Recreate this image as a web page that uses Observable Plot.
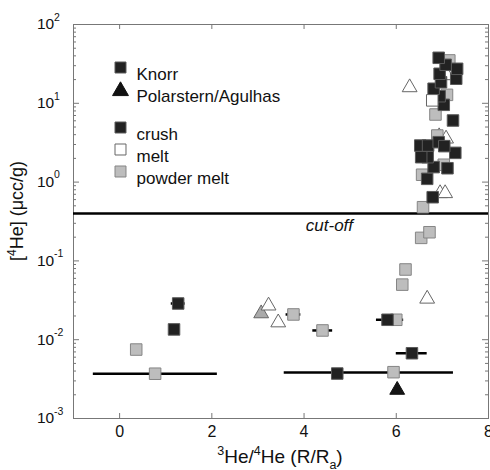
<!DOCTYPE html>
<html><head><meta charset="utf-8">
<script src="https://cdn.jsdelivr.net/npm/d3@7"></script>
<script src="https://cdn.jsdelivr.net/npm/@observablehq/plot@0.6"></script>
<style>html,body{margin:0;padding:0;background:#fff}</style>
</head><body><div id="chart"></div>
<script>
// Knorr samples (squares)
const knorrX = [0.36, 0.77, 3.77, 4.40, 6.00, 5.94, 6.13, 6.20, 6.54, 6.72, 6.58, 6.56, 7.03, 6.89, 6.85, 7.10, 7.15,
  1.27, 1.18, 5.81, 6.34, 4.72, 6.79, 6.67, 6.81, 7.11, 6.68, 6.54, 7.28, 6.52, 6.69, 6.92, 7.04, 7.23, 7.03, 6.94, 6.81, 6.97, 7.30, 6.94, 7.32, 7.07, 6.92,
  6.78];
const knorrY = [0.0075, 0.0037, 0.0209, 0.0131, 0.0179, 0.00387, 0.050, 0.0778, 0.196, 0.231, 0.48, 1.24, 1.66, 3.90, 7.21, 12.8, 35,
  0.0288, 0.0135, 0.0179, 0.00673, 0.00372, 0.643, 1.10, 1.55, 1.50, 2.07, 2.07, 2.35, 2.91, 2.91, 3.21, 2.86, 6.05, 9.57, 12.3, 15.3, 18.5, 20.5, 23.7, 27.4, 30.8, 37.8,
  10.9];
const knorrType = ["powder","powder","powder","powder","powder","powder","powder","powder","powder","powder","powder","powder","powder","powder","powder","powder","powder",
  "crush","crush","crush","crush","crush","crush","crush","crush","crush","crush","crush","crush","crush","crush","crush","crush","crush","crush","crush","crush","crush","crush","crush","crush","crush","crush",
  "melt"];

// Polarstern/Agulhas samples (triangles)
const polX = [3.07, 6.29, 7.10, 6.93, 7.08, 6.95, 7.06, 6.67, 3.23, 3.44, 6.02];
const polY = [0.0215, 15.9, 22.6, 3.8, 3.55, 0.72, 0.72, 0.033, 0.027, 0.0165, 0.0023];
const polType = ["powder","melt","melt","melt","melt","melt","melt","melt","melt","melt","crush"];

// horizontal error bars / blank ranges
const errY  = [0.0288, 0.0209, 0.0131, 0.0179, 0.00673, 0.0037, 0.00384];
const errX1 = [1.12, 3.61, 4.19, 5.57, 6.00, -0.57, 3.57];
const errX2 = [1.42, 3.93, 4.62, 6.16, 6.67, 2.12, 7.24];

const cutoffValue = 0.4;
const cutoffLabel = "cut-off";
const cutoffLabelX = 4.55;

const xTicks = [0, 2, 4, 6, 8];
const yMajor = [1e-3, 1e-2, 1e-1, 1e0, 1e1, 1e2];
const yMinor = [];
for (let e = -3; e < 2; e++) for (let m = 2; m <= 9; m++) yMinor.push(m * Math.pow(10, e));

const legendLabels = ["Knorr", "Polarstern/Agulhas", "crush", "melt", "powder melt"];
const legendSymbols = ["square", "triangle", "square", "square", "square"];
const legendTypes = ["crush", "crush", "crush", "melt", "powder"];

const fillOf = {crush: "#222222", melt: "#ffffff", powder: "#bdbdbd"};
const strokeOf = {crush: "#5a5a5a", melt: "#666666", powder: "#858585"};
const triFillOf = {crush: "#151515", melt: "#ffffff", powder: "#aaaaaa"};

const knorr = knorrX.map((x, i) => ({x, y: knorrY[i], type: knorrType[i]}));
const pol = polX.map((x, i) => ({x, y: polY[i], type: polType[i]}));
const errs = errY.map((y, i) => ({y, x1: errX1[i], x2: errX2[i]}));

const W = 490, H = 470, mL = 73, mR = 2, mT = 24, mB = 52;
const fw = W - mL - mR, fh = H - mT - mB;
const tickColor = "#777";

const legendMarks = legendLabels.flatMap((label, i) => {
  const dy = 43 + i * 22 + (i >= 2 ? 16 : 0);
  const sq = legendSymbols[i] === "square";
  return [
    Plot.dot([label], {frameAnchor: "top-left", dx: 47, dy: sq ? dy : dy + 1.5, symbol: legendSymbols[i],
      r: sq ? 6.2 : 5.9, fill: sq ? fillOf[legendTypes[i]] : "#111", stroke: sq ? strokeOf[legendTypes[i]] : "#111", strokeWidth: 1}),
    Plot.text([label], {frameAnchor: "top-left", dx: 63, dy, text: d => d, textAnchor: "start", fontSize: 17, fill: "#111"})
  ];
});

const chart = Plot.plot({
  width: W, height: H,
  marginLeft: mL, marginRight: mR, marginTop: mT, marginBottom: mB,
  style: {fontFamily: "'Liberation Sans', Arial, Helvetica, sans-serif", background: "#fff", color: "#111"},
  x: {domain: [-1, 8], axis: null},
  y: {type: "log", domain: [1e-3, 1e2], axis: null},
  color: {type: "identity"},
  marks: [
    Plot.frame({stroke: tickColor, strokeWidth: 1}),
    // ticks (inward) on all sides
    Plot.tickX(xTicks, {x: d => d, insetTop: fh - 5, stroke: tickColor}),
    Plot.tickX(xTicks, {x: d => d, insetBottom: fh - 5, stroke: tickColor}),
    Plot.tickY(yMajor, {y: d => d, insetRight: fw - 6, stroke: tickColor}),
    Plot.tickY(yMajor, {y: d => d, insetLeft: fw - 6, stroke: tickColor}),
    Plot.tickY(yMinor, {y: d => d, insetRight: fw - 3, stroke: tickColor}),
    Plot.tickY(yMinor, {y: d => d, insetLeft: fw - 3, stroke: tickColor}),
    // x tick labels
    Plot.axisX(xTicks, {tickSize: 0, tickPadding: 7, fontSize: 16, label: null, tickFormat: d => String(d)}),
    // y tick labels: 10 with exponent
    Plot.text(yMajor, {y: d => d, frameAnchor: "left", dx: -36.5, textAnchor: "start", text: () => "10", fontSize: 15.5}),
    Plot.text(yMajor, {y: d => d, frameAnchor: "left", dx: -19.5, dy: -7, textAnchor: "start",
      text: d => String(Math.round(Math.log10(d))), fontSize: 10.5}),
    // cut-off
    Plot.ruleY([cutoffValue], {stroke: "#000", strokeWidth: 2.5}),
    Plot.text([cutoffLabel], {x: cutoffLabelX, y: cutoffValue, dy: 12, text: d => d, fontSize: 17, fontStyle: "italic", fill: "#111"}),
    // error bars
    Plot.ruleY(errs, {y: "y", x1: "x1", x2: "x2", stroke: "#000", strokeWidth: 2.5}),
    // triangles
    Plot.dot(pol, {x: "x", y: "y", symbol: "triangle", r: 5.5, fill: d => triFillOf[d.type], stroke: d => d.type === "crush" ? "#111" : "#666", strokeWidth: 1}),
    // squares
    Plot.dot(knorr, {x: "x", y: "y", symbol: "square", r: 6.5, fill: d => fillOf[d.type], stroke: d => strokeOf[d.type], strokeWidth: 1}),
    ...legendMarks
  ]
});

const svg = d3.select(chart);
// y axis label
const yl = svg.append("text")
  .attr("transform", `translate(23, 211) rotate(-90)`)
  .attr("text-anchor", "middle")
  .attr("font-size", 18).attr("fill", "#111");
yl.append("tspan").text("[");
yl.append("tspan").attr("font-size", 12).attr("dy", -7).text("4");
yl.append("tspan").attr("dy", 7).text("He] (μcc/g)");

// x axis label
const xl = svg.append("text")
  .attr("transform", `translate(280, 463)`)
  .attr("text-anchor", "middle")
  .attr("font-size", 19).attr("fill", "#111");
xl.append("tspan").attr("font-size", 12.5).attr("dy", -8).text("3");
xl.append("tspan").attr("dy", 8).text("He/");
xl.append("tspan").attr("font-size", 12.5).attr("dy", -8).text("4");
xl.append("tspan").attr("dy", 8).text("He (R/R");
xl.append("tspan").attr("font-size", 12.5).attr("dy", 6).text("a");
xl.append("tspan").attr("dy", -6).text(")");

document.getElementById("chart").appendChild(chart);
</script></body></html>
